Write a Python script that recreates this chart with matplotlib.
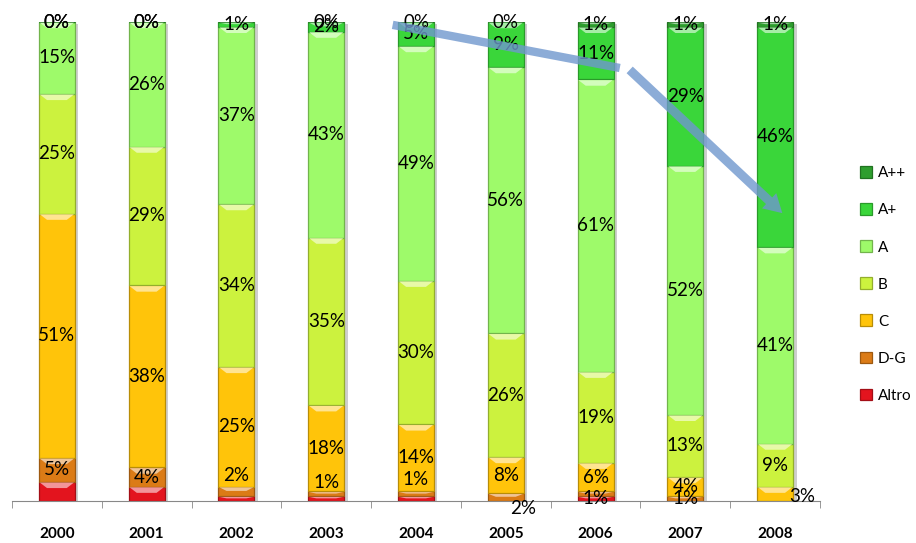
import numpy as np
import matplotlib
matplotlib.use("Agg")
import matplotlib.pyplot as plt
import matplotlib.patheffects as pe
from matplotlib.colors import to_rgb

plt.rcParams['font.family'] = ['Lato', 'DejaVu Sans']

years = ["2000", "2001", "2002", "2003", "2004", "2005", "2006", "2007", "2008"]

# share of each energy class per year (%), stacked from the bottom
altro = [4, 3, 1, 1, 1, 0, 1, 0, 0]
d_g = [5, 4, 2, 1, 1, 1.6, 1, 1, 0]
c_cls = [51, 38, 25, 18, 14, 7.6, 6, 4, 3]
b_cls = [25, 29, 34, 35, 30, 25.8, 19, 13, 9]
a_cls = [15, 26, 37, 43, 49, 55.6, 61, 52, 41]
a_plus = [0, 0, 1, 2, 5, 9.4, 11, 29, 46]
a_2plus = [0, 0, 0, 0, 0, 0, 1, 1, 1]

series = [
    ("Altro", altro, "#E3141E"),
    ("D-G", d_g, "#DB7B16"),
    ("C", c_cls, "#FFC40A"),
    ("B", b_cls, "#CCF23E"),
    ("A", a_cls, "#9EFA6A"),
    ("A+", a_plus, "#3AD63A"),
    ("A++", a_2plus, "#2E9E2E"),
]

# labels that are not drawn, and a few that sit away from their segment
hidden = {("Altro", i) for i in range(9) if i != 6} | {("D-G", 6), ("D-G", 8), ("A++", 2)}
nudge = {("D-G", 2): (0, 3.4), ("D-G", 3): (0, 2.3), ("D-G", 4): (0, 2.9),
         ("D-G", 5): (0.19, -2.3), ("C", 8): (0.3, -0.5)}


def shade(col, f):
    r = np.array(to_rgb(col))
    return tuple(r * f)


def tint(col, f):
    r = np.array(to_rgb(col))
    return tuple(r + (1 - r) * f)


fig = plt.figure(figsize=(9.16, 5.43), dpi=100)
ax = fig.add_axes([12/916, 42/543, 808/916, 479/543])

x = np.arange(len(years))
w = 0.4

# soft shadow behind the full columns
totals = np.sum([np.array(s[1], float) for s in series], axis=0)
shadow = ax.bar(x, totals, w, color='none', zorder=1)
for p in shadow:
    p.set_path_effects([pe.SimplePatchShadow(offset=(2.5, -1.5), shadow_rgbFace='0.45', alpha=0.35)])

bottom = np.zeros(len(years))
handles = []
for name, vals, col in series:
    vals = np.array(vals, float)
    bars = ax.bar(x, vals, w, bottom=bottom, color=col, edgecolor=shade(col, 0.72),
                  linewidth=0.9, label=name, zorder=2)
    handles.append(bars)
    light = tint(col, 0.55)
    for i, (xi, v, b0) in enumerate(zip(x, vals, bottom)):
        if v > 0:
            top = b0 + v
            d = min(1.3, v * 0.45)
            ax.fill([xi - w/2 + 0.01, xi + w/2 - 0.01, xi + w/2 - 0.09, xi - w/2 + 0.09],
                    [top - 0.15, top - 0.15, top - d, top - d], color=light, lw=0, zorder=3)
        if (name, i) in hidden or (v == 0 and name not in ("A+", "A++")):
            continue
        dx, dy = nudge.get((name, i), (0, 0))
        ax.text(xi + dx, b0 + v / 2 + dy, f"{v:.0f}%", ha='center', va='center',
                fontsize=13.5, color='black', zorder=5, clip_on=False)
    bottom += vals

# trend arrow across the top of the columns
arrow_col = '#6F97CE'
ax.plot([3.74, 6.27], [99.4, 90.4], color=arrow_col, lw=6, alpha=0.8,
        solid_capstyle='butt', zorder=6, clip_on=False)
ax.annotate("", xy=(8.08, 60.1), xytext=(6.38, 90.0),
            arrowprops=dict(arrowstyle="simple,head_length=1.3,head_width=1.5,tail_width=0.65",
                            mutation_scale=10, color=arrow_col, alpha=0.8, lw=0,
                            shrinkA=0, shrinkB=0), zorder=6)

ax.set_xlim(-0.5, 8.5)
ax.set_ylim(0, 100)
for s in ("top", "left", "right"):
    ax.spines[s].set_visible(False)
ax.spines["bottom"].set_color('#888888')
ax.set_yticks([])
ax.set_xticks(x, years, fontweight='bold', fontsize=11)
ax.set_xticks(np.arange(-0.5, 9), minor=True)
ax.tick_params(axis='x', which='major', length=0, pad=19)
ax.tick_params(axis='x', which='minor', length=5, color='#888888')

fig.legend(handles[::-1], [s[0] for s in series][::-1], loc='center left',
           bbox_to_anchor=(846/916, 258.5/543), frameon=False, fontsize=11,
           handlelength=0.8, handleheight=0.8, handletextpad=0.4, labelspacing=1.5)

fig.savefig("out.png", dpi=100)
